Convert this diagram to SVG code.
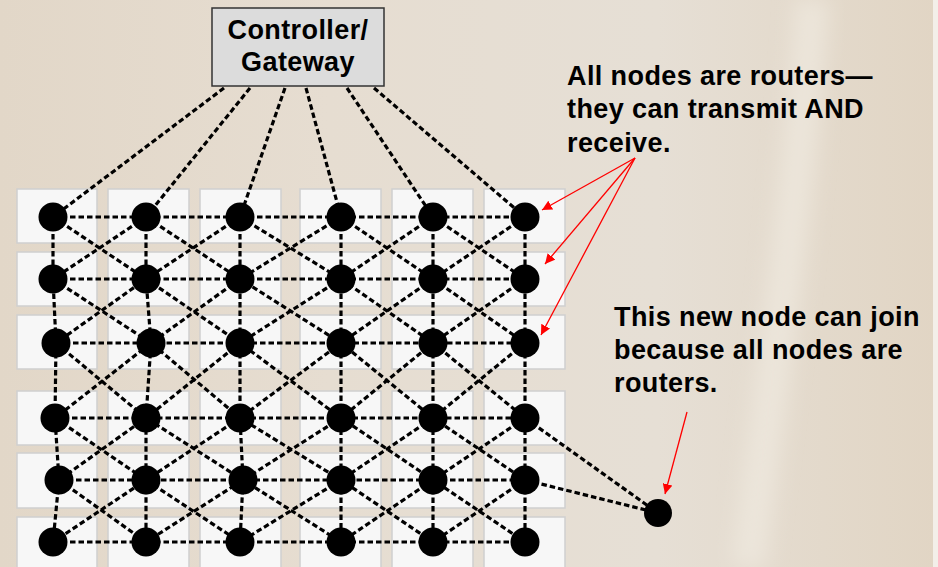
<svg xmlns="http://www.w3.org/2000/svg" width="938" height="567" viewBox="0 0 938 567">
<defs>
<linearGradient id="bg" x1="0" y1="0" x2="1" y2="0">
<stop offset="0" stop-color="#e2d7c8"/>
<stop offset="0.35" stop-color="#e6ddd1"/>
<stop offset="0.7" stop-color="#e6dfd5"/>
<stop offset="1" stop-color="#e1d5c4"/>
</linearGradient>
<filter id="soft" x="-50%" y="-10%" width="200%" height="120%"><feGaussianBlur stdDeviation="10"/></filter>
<marker id="ah" viewBox="0 0 10 10" refX="10" refY="5" markerWidth="10" markerHeight="10" markerUnits="userSpaceOnUse" orient="auto">
<path d="M0,0 L10,5 L0,10 Z" fill="#ff0000"/>
</marker>
<style>
.bgcell{fill:#f7f7f7;stroke:#cfcfcf;stroke-width:1.5}
.dash{fill:none;stroke:#000;stroke-width:3.2;stroke-dasharray:5.5 3}
.node{fill:#000}
.lbl{font-family:"Liberation Sans",Arial,sans-serif;font-weight:bold;font-size:27px;fill:#000;letter-spacing:0.4px}
.red{stroke:#ff0000;stroke-width:1.3;fill:none}
</style>
</defs>
<rect x="0" y="0" width="938" height="567" fill="url(#bg)"/>
<path d="M812,0 C798,200 772,380 748,567" stroke="#efe9e0" stroke-opacity="0.7" stroke-width="34" fill="none" filter="url(#soft)"/>
<rect x="933" y="0" width="5" height="567" fill="#f3efe9"/>

<g id="cells">
<rect class="bgcell" x="17" y="189" width="80" height="54"/><rect class="bgcell" x="108" y="189" width="81" height="54"/><rect class="bgcell" x="200" y="189" width="81" height="54"/><rect class="bgcell" x="300" y="189" width="81" height="54"/><rect class="bgcell" x="392" y="189" width="81" height="54"/><rect class="bgcell" x="484" y="189" width="81" height="54"/>
<rect class="bgcell" x="17" y="252" width="80" height="54"/><rect class="bgcell" x="108" y="252" width="81" height="54"/><rect class="bgcell" x="200" y="252" width="81" height="54"/><rect class="bgcell" x="300" y="252" width="81" height="54"/><rect class="bgcell" x="392" y="252" width="81" height="54"/><rect class="bgcell" x="484" y="252" width="81" height="54"/>
<rect class="bgcell" x="17" y="315" width="80" height="54"/><rect class="bgcell" x="108" y="315" width="81" height="54"/><rect class="bgcell" x="200" y="315" width="81" height="54"/><rect class="bgcell" x="300" y="315" width="81" height="54"/><rect class="bgcell" x="392" y="315" width="81" height="54"/><rect class="bgcell" x="484" y="315" width="81" height="54"/>
<rect class="bgcell" x="17" y="391" width="80" height="54"/><rect class="bgcell" x="108" y="391" width="81" height="54"/><rect class="bgcell" x="200" y="391" width="81" height="54"/><rect class="bgcell" x="300" y="391" width="81" height="54"/><rect class="bgcell" x="392" y="391" width="81" height="54"/><rect class="bgcell" x="484" y="391" width="81" height="54"/>
<rect class="bgcell" x="17" y="453" width="80" height="55"/><rect class="bgcell" x="108" y="453" width="81" height="55"/><rect class="bgcell" x="200" y="453" width="81" height="55"/><rect class="bgcell" x="300" y="453" width="81" height="55"/><rect class="bgcell" x="392" y="453" width="81" height="55"/><rect class="bgcell" x="484" y="453" width="81" height="55"/>
<rect class="bgcell" x="17" y="517" width="80" height="56"/><rect class="bgcell" x="108" y="517" width="81" height="56"/><rect class="bgcell" x="200" y="517" width="81" height="56"/><rect class="bgcell" x="300" y="517" width="81" height="56"/><rect class="bgcell" x="392" y="517" width="81" height="56"/><rect class="bgcell" x="484" y="517" width="81" height="56"/>
</g>

<g id="connectors">
<line class="dash" x1="224" y1="88" x2="53" y2="217"/>
<line class="dash" x1="250" y1="88" x2="146" y2="217"/>
<line class="dash" x1="285" y1="88" x2="240" y2="217"/>
<line class="dash" x1="306" y1="88" x2="341" y2="217"/>
<line class="dash" x1="347" y1="88" x2="433" y2="217"/>
<line class="dash" x1="374" y1="88" x2="525" y2="217"/>
<polyline class="dash" points="53,217 146,217 240,217 341,217 433,217 525,217"/>
<polyline class="dash" points="53,279 146,279 240,279 341,279 433,279 525,279"/>
<polyline class="dash" points="56,343 151,343 240,343 341,343 433,343 525,343"/>
<polyline class="dash" points="55,418 146,418 240,418 341,418 433,418 525,418"/>
<polyline class="dash" points="59,480 146,480 243,480 341,480 433,480 525,480"/>
<polyline class="dash" points="53,542 146,542 240,542 341,542 433,542 525,542"/>
<polyline class="dash" points="53,217 53,279 56,343 55,418 59,480 53,542"/>
<polyline class="dash" points="146,217 146,279 151,343 146,418 146,480 146,542"/>
<polyline class="dash" points="240,217 240,279 240,343 240,418 243,480 240,542"/>
<polyline class="dash" points="341,217 341,279 341,343 341,418 341,480 341,542"/>
<polyline class="dash" points="433,217 433,279 433,343 433,418 433,480 433,542"/>
<polyline class="dash" points="525,217 525,279 525,343 525,418 525,480 525,542"/>
<polyline class="dash" points="53,217 146,279 240,343 341,418 433,480 525,542"/>
<polyline class="dash" points="53,279 151,343 240,418 341,480 433,542"/>
<polyline class="dash" points="56,343 146,418 243,480 341,542"/>
<polyline class="dash" points="55,418 146,480 240,542"/>
<polyline class="dash" points="59,480 146,542"/>
<polyline class="dash" points="146,217 240,279 341,343 433,418 525,480"/>
<polyline class="dash" points="240,217 341,279 433,343 525,418"/>
<polyline class="dash" points="341,217 433,279 525,343"/>
<polyline class="dash" points="433,217 525,279"/>
<polyline class="dash" points="525,217 433,279 341,343 240,418 146,480 53,542"/>
<polyline class="dash" points="525,279 433,343 341,418 243,480 146,542"/>
<polyline class="dash" points="525,343 433,418 341,480 240,542"/>
<polyline class="dash" points="525,418 433,480 341,542"/>
<polyline class="dash" points="525,480 433,542"/>
<polyline class="dash" points="433,217 341,279 240,343 146,418 59,480"/>
<polyline class="dash" points="341,217 240,279 151,343 55,418"/>
<polyline class="dash" points="240,217 146,279 56,343"/>
<polyline class="dash" points="146,217 53,279"/>
<line class="dash" x1="525" y1="418" x2="658" y2="513"/>
<line class="dash" x1="525" y1="480" x2="658" y2="513"/>
</g>

<g id="controller">
<rect x="212" y="8" width="172" height="78" fill="#dcdcdc" stroke="#333" stroke-width="1.5"/>
<text class="lbl" x="298" y="39" text-anchor="middle">Controller/</text>
<text class="lbl" x="298" y="71" text-anchor="middle">Gateway</text>
</g>

<g id="n-r1c1"><circle class="node" cx="53" cy="217" r="14.5"/></g>
<g id="n-r1c2"><circle class="node" cx="146" cy="217" r="14.5"/></g>
<g id="n-r1c3"><circle class="node" cx="240" cy="217" r="14.5"/></g>
<g id="n-r1c4"><circle class="node" cx="341" cy="217" r="14.5"/></g>
<g id="n-r1c5"><circle class="node" cx="433" cy="217" r="14.5"/></g>
<g id="n-r1c6"><circle class="node" cx="525" cy="217" r="14.5"/></g>
<g id="n-r2c1"><circle class="node" cx="53" cy="279" r="14.5"/></g>
<g id="n-r2c2"><circle class="node" cx="146" cy="279" r="14.5"/></g>
<g id="n-r2c3"><circle class="node" cx="240" cy="279" r="14.5"/></g>
<g id="n-r2c4"><circle class="node" cx="341" cy="279" r="14.5"/></g>
<g id="n-r2c5"><circle class="node" cx="433" cy="279" r="14.5"/></g>
<g id="n-r2c6"><circle class="node" cx="525" cy="279" r="14.5"/></g>
<g id="n-r3c1"><circle class="node" cx="56" cy="343" r="14.5"/></g>
<g id="n-r3c2"><circle class="node" cx="151" cy="343" r="14.5"/></g>
<g id="n-r3c3"><circle class="node" cx="240" cy="343" r="14.5"/></g>
<g id="n-r3c4"><circle class="node" cx="341" cy="343" r="14.5"/></g>
<g id="n-r3c5"><circle class="node" cx="433" cy="343" r="14.5"/></g>
<g id="n-r3c6"><circle class="node" cx="525" cy="343" r="14.5"/></g>
<g id="n-r4c1"><circle class="node" cx="55" cy="418" r="14.5"/></g>
<g id="n-r4c2"><circle class="node" cx="146" cy="418" r="14.5"/></g>
<g id="n-r4c3"><circle class="node" cx="240" cy="418" r="14.5"/></g>
<g id="n-r4c4"><circle class="node" cx="341" cy="418" r="14.5"/></g>
<g id="n-r4c5"><circle class="node" cx="433" cy="418" r="14.5"/></g>
<g id="n-r4c6"><circle class="node" cx="525" cy="418" r="14.5"/></g>
<g id="n-r5c1"><circle class="node" cx="59" cy="480" r="14.5"/></g>
<g id="n-r5c2"><circle class="node" cx="146" cy="480" r="14.5"/></g>
<g id="n-r5c3"><circle class="node" cx="243" cy="480" r="14.5"/></g>
<g id="n-r5c4"><circle class="node" cx="341" cy="480" r="14.5"/></g>
<g id="n-r5c5"><circle class="node" cx="433" cy="480" r="14.5"/></g>
<g id="n-r5c6"><circle class="node" cx="525" cy="480" r="14.5"/></g>
<g id="n-r6c1"><circle class="node" cx="53" cy="542" r="14.5"/></g>
<g id="n-r6c2"><circle class="node" cx="146" cy="542" r="14.5"/></g>
<g id="n-r6c3"><circle class="node" cx="240" cy="542" r="14.5"/></g>
<g id="n-r6c4"><circle class="node" cx="341" cy="542" r="14.5"/></g>
<g id="n-r6c5"><circle class="node" cx="433" cy="542" r="14.5"/></g>
<g id="n-r6c6"><circle class="node" cx="525" cy="542" r="14.5"/></g>
<g id="n-new"><circle class="node" cx="658" cy="513" r="14"/></g>

<g id="annotations">
<line class="red" x1="635" y1="158" x2="542" y2="210" marker-end="url(#ah)"/>
<line class="red" x1="635" y1="158" x2="545" y2="264" marker-end="url(#ah)"/>
<line class="red" x1="635" y1="158" x2="541" y2="335" marker-end="url(#ah)"/>
<line class="red" x1="687" y1="412" x2="665" y2="494" marker-end="url(#ah)"/>
<text class="lbl" x="567" y="85">All nodes are routers—</text>
<text class="lbl" x="567" y="118">they can transmit AND</text>
<text class="lbl" x="567" y="152">receive.</text>
<text class="lbl" x="614" y="326">This new node can join</text>
<text class="lbl" x="614" y="359">because all nodes are</text>
<text class="lbl" x="614" y="392">routers.</text>
</g>
</svg>
